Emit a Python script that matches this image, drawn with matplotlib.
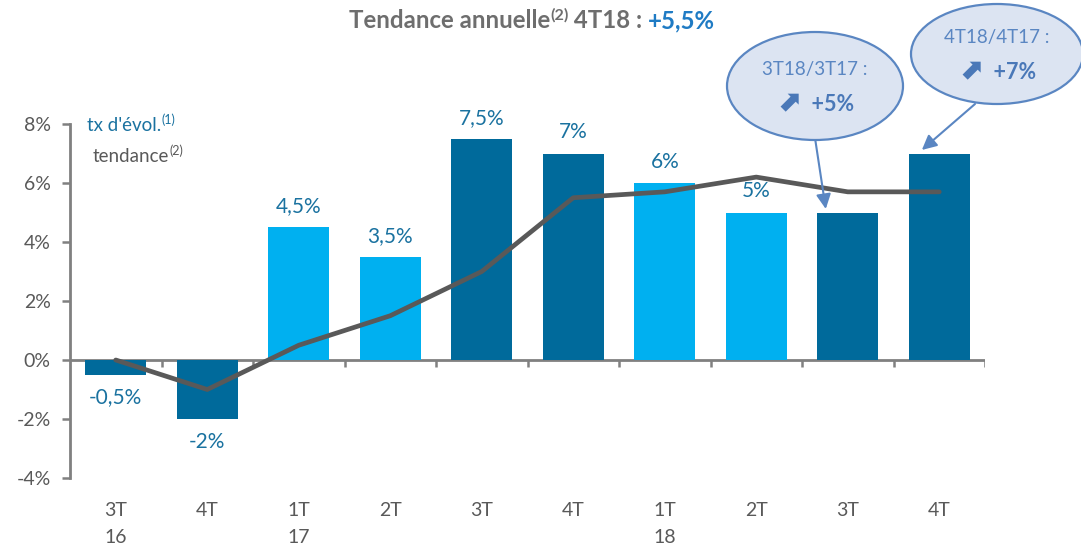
import matplotlib
matplotlib.use("Agg")
from matplotlib import pyplot as plt
from matplotlib.patches import Ellipse

# data
quarters = ['3T\n16', '4T', '1T\n17', '2T', '3T', '4T', '1T\n18', '2T', '3T', '4T']
taux = [-0.5, -2, 4.5, 3.5, 7.5, 7, 6, 5, 5, 7]
taux_labels = ['-0,5%', '-2%', '4,5%', '3,5%', '7,5%', '7%', '6%', '5%', '', '']
tendance = [0, -1, 0.5, 1.5, 3.0, 5.5, 5.7, 6.2, 5.7, 5.7]
dark_bar = [True, True, False, False, True, True, False, False, True, True]

DARK = '#006A9B'
LIGHT = '#00B0F0'
LBL = '#1A72A0'
GREY = '#595959'
EDGE = '#5A86C2'
FILL = '#DCE4F2'
plt.rcParams['font.family'] = ['Lato', 'DejaVu Sans']

fig = plt.figure(figsize=(10.81, 5.45), dpi=100)
ax = fig.add_axes([70/1081, 1-478/545, 915/1081, 354/545])

x = list(range(len(quarters)))
colors = [DARK if d else LIGHT for d in dark_bar]
ax.bar(x, taux, width=0.67, color=colors, zorder=2)
ax.plot(x, tendance, color=GREY, lw=3.4, zorder=3, solid_capstyle='round')

for i, v in enumerate(taux):
    if not taux_labels[i]:
        continue
    if v >= 0:
        ax.annotate(taux_labels[i], (i, v), xytext=(0, 8), textcoords='offset points',
                    ha='center', va='bottom', color=LBL, fontsize=15)
    else:
        ax.annotate(taux_labels[i], (i, v), xytext=(0, -9), textcoords='offset points',
                    ha='center', va='top', color=LBL, fontsize=15)

ax.set_xlim(-0.5, len(quarters) - 0.5)
ax.set_ylim(-4, 8)
ax.set_yticks([-4, -2, 0, 2, 4, 6, 8])
ax.set_yticklabels(['-4%', '-2%', '0%', '2%', '4%', '6%', '8%'])
ax.set_xticks(x)
ax.set_xticklabels(quarters, linespacing=1.75)
ax.tick_params(axis='x', length=0, pad=17, labelsize=14, labelcolor=GREY)
ax.tick_params(axis='y', length=6, width=1.8, color='#808080', labelsize=14,
               labelcolor=GREY, pad=8)
for s in ['top', 'right', 'bottom']:
    ax.spines[s].set_visible(False)
ax.spines['left'].set_color('#808080')
ax.spines['left'].set_linewidth(2)
ax.axhline(0, color='#808080', lw=2, zorder=1)
ax.vlines([i + 0.5 for i in x], -0.25, 0, color='#808080', lw=1.8)

renderer = fig.canvas.get_renderer()


def put_runs(px, py, runs, ha='center'):
    # runs: (text, size, color, weight, raise in px[, family])
    texts = []
    for r in runs:
        t, size, col, w, dy = r[:5]
        kw = {'family': r[5]} if len(r) > 5 else {}
        txt = fig.text(0, 0, t, fontsize=size, color=col, fontweight=w,
                       transform=None, va='baseline', zorder=8, **kw)
        texts.append((txt, dy))
    widths = [t.get_window_extent(renderer).width for t, _ in texts]
    total = sum(widths)
    cur = px - total / 2 if ha == 'center' else px
    for (t, dy), w in zip(texts, widths):
        t.set_position((cur, 545 - py + dy))
        cur += w


# title
put_runs(532, 28, [('Tendance annuelle', 17.3, '#6E6E6E', 'bold', 0),
                   ('(2)', 11.5, '#6E6E6E', 'bold', 8),
                   (' 4T18 : ', 17.3, '#6E6E6E', 'bold', 0),
                   ('+5,5%', 17.3, '#1F7BC4', 'bold', 0)])

# legend texts
put_runs(87, 131, [("tx d'évol.", 13.5, LBL, 'normal', 0),
                   ('(1)', 9, LBL, 'normal', 7)], ha='left')
put_runs(93, 162, [('tendance', 13.5, GREY, 'normal', 0),
                   ('(2)', 9, GREY, 'normal', 7)], ha='left')

# callouts
callouts = [
    {'c': (815, 86), 'w': 176, 'h': 108, 'l1': '3T18/3T17 :', 'l2': '+5%',
     'bar': 8, 'start': (815, 138), 'dx': -0.24},
    {'c': (997, 54), 'w': 172, 'h': 100, 'l1': '4T18/4T17 :', 'l2': '+7%',
     'bar': 9, 'start': (975, 104), 'dx': -0.19},
]
for co in callouts:
    cx, cy = co['c']
    e = Ellipse((cx, 545 - cy), co['w'], co['h'], transform=None,
                facecolor=FILL, edgecolor=EDGE, lw=1.6, zorder=5)
    fig.patches.append(e)
    fig.text(cx, 545 - cy + 17, co['l1'], transform=None, ha='center', va='center',
             fontsize=13.5, color=EDGE, zorder=8)
    put_runs(cx, cy + 25, [('\u2b08', 21, '#4A78B8', 'bold', 0, 'DejaVu Sans'),
                           ('  ' + co['l2'], 15.5, '#4A78B8', 'bold', 0)])
    b = co['bar']
    ax.annotate('', xy=(b + co['dx'], taux[b] + 0.12), xycoords='data',
                xytext=(co['start'][0], 545 - co['start'][1]), textcoords='figure pixels',
                arrowprops=dict(arrowstyle='-|>', color=EDGE, lw=1.5,
                                mutation_scale=22, shrinkA=0, shrinkB=0),
                annotation_clip=False, zorder=6)

fig.savefig('out.png', dpi=100)
